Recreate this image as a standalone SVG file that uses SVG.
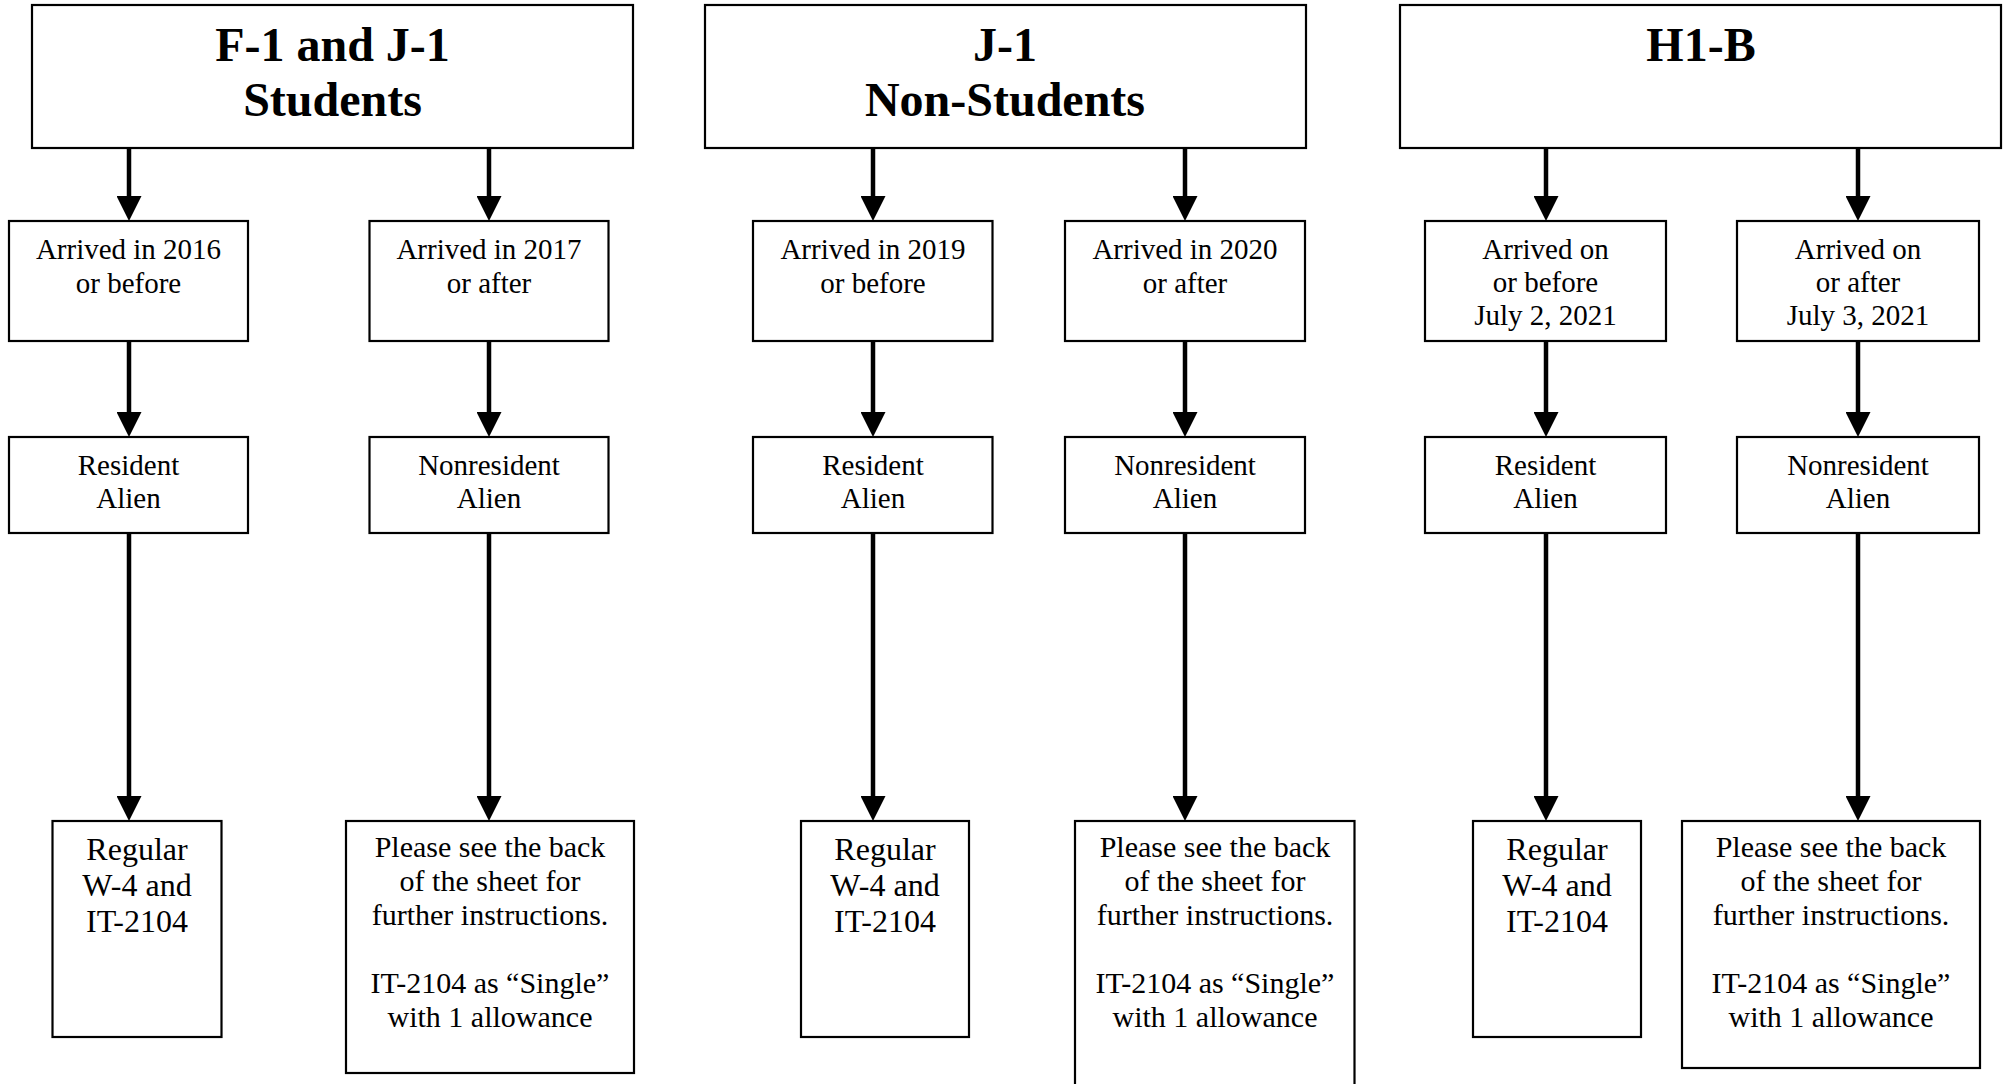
<svg xmlns="http://www.w3.org/2000/svg" width="2005" height="1084" viewBox="0 0 2005 1084">
<defs>
<style>
.box{fill:#fff;stroke:#000;stroke-width:2.2}
.t{font-family:"Liberation Serif","Times New Roman",serif;fill:#000;text-anchor:middle}
.h{font-size:48px;font-weight:bold}
.m{font-size:29px}
.r{font-size:32px}
.p{font-size:30px}
.c{stroke:#000;stroke-width:4.5;fill:none;marker-end:url(#ah)}
</style>
<marker id="ah" markerUnits="userSpaceOnUse" markerWidth="25" markerHeight="25" refX="5" refY="12.5" orient="auto">
<path d="M0,0 L25,12.5 L0,25 z" fill="#000"/>
</marker>
</defs>
<rect width="2005" height="1084" fill="#fff"/>

<g id="connectors">
<line class="c" x1="129" y1="148" x2="129" y2="201"/>
<line class="c" x1="489" y1="148" x2="489" y2="201"/>
<line class="c" x1="873" y1="148" x2="873" y2="201"/>
<line class="c" x1="1185" y1="148" x2="1185" y2="201"/>
<line class="c" x1="1546" y1="148" x2="1546" y2="201"/>
<line class="c" x1="1858" y1="148" x2="1858" y2="201"/>
<line class="c" x1="129" y1="341" x2="129" y2="417"/>
<line class="c" x1="489" y1="341" x2="489" y2="417"/>
<line class="c" x1="873" y1="341" x2="873" y2="417"/>
<line class="c" x1="1185" y1="341" x2="1185" y2="417"/>
<line class="c" x1="1546" y1="341" x2="1546" y2="417"/>
<line class="c" x1="1858" y1="341" x2="1858" y2="417"/>
<line class="c" x1="129" y1="533" x2="129" y2="801"/>
<line class="c" x1="489" y1="533" x2="489" y2="801"/>
<line class="c" x1="873" y1="533" x2="873" y2="801"/>
<line class="c" x1="1185" y1="533" x2="1185" y2="801"/>
<line class="c" x1="1546" y1="533" x2="1546" y2="801"/>
<line class="c" x1="1858" y1="533" x2="1858" y2="801"/>
</g>

<g id="h-students">
<rect class="box" x="32" y="5" width="601" height="143"/>
<text class="t h" x="332.5" y="61">F-1 and J-1</text>
<text class="t h" x="332.5" y="116">Students</text>
</g>
<g id="h-nonstudents">
<rect class="box" x="705" y="5" width="601" height="143"/>
<text class="t h" x="1005" y="61">J-1</text>
<text class="t h" x="1005" y="116">Non-Students</text>
</g>
<g id="h-h1b">
<rect class="box" x="1400" y="5" width="601" height="143"/>
<text class="t h" x="1701" y="61">H1-B</text>
</g>

<g id="a-2016">
<rect class="box" x="9" y="221" width="239" height="120"/>
<text class="t m" x="128.5" y="259">Arrived in 2016</text>
<text class="t m" x="128.5" y="293">or before</text>
</g>
<g id="a-2017">
<rect class="box" x="369.5" y="221" width="239" height="120"/>
<text class="t m" x="489" y="259">Arrived in 2017</text>
<text class="t m" x="489" y="293">or after</text>
</g>
<g id="a-2019">
<rect class="box" x="753" y="221" width="239.5" height="120"/>
<text class="t m" x="873" y="259">Arrived in 2019</text>
<text class="t m" x="873" y="293">or before</text>
</g>
<g id="a-2020">
<rect class="box" x="1065" y="221" width="240" height="120"/>
<text class="t m" x="1185" y="259">Arrived in 2020</text>
<text class="t m" x="1185" y="293">or after</text>
</g>
<g id="a-jul2">
<rect class="box" x="1425" y="221" width="241" height="120"/>
<text class="t m" x="1545.5" y="259">Arrived on</text>
<text class="t m" x="1545.5" y="292">or before</text>
<text class="t m" x="1545.5" y="325">July 2, 2021</text>
</g>
<g id="a-jul3">
<rect class="box" x="1737" y="221" width="242" height="120"/>
<text class="t m" x="1858" y="259">Arrived on</text>
<text class="t m" x="1858" y="292">or after</text>
<text class="t m" x="1858" y="325">July 3, 2021</text>
</g>

<g id="s-ra1">
<rect class="box" x="9" y="437" width="239" height="96"/>
<text class="t m" x="128.5" y="475">Resident</text>
<text class="t m" x="128.5" y="508">Alien</text>
</g>
<g id="s-nra1">
<rect class="box" x="369.5" y="437" width="239" height="96"/>
<text class="t m" x="489" y="475">Nonresident</text>
<text class="t m" x="489" y="508">Alien</text>
</g>
<g id="s-ra2">
<rect class="box" x="753" y="437" width="239.5" height="96"/>
<text class="t m" x="873" y="475">Resident</text>
<text class="t m" x="873" y="508">Alien</text>
</g>
<g id="s-nra2">
<rect class="box" x="1065" y="437" width="240" height="96"/>
<text class="t m" x="1185" y="475">Nonresident</text>
<text class="t m" x="1185" y="508">Alien</text>
</g>
<g id="s-ra3">
<rect class="box" x="1425" y="437" width="241" height="96"/>
<text class="t m" x="1545.5" y="475">Resident</text>
<text class="t m" x="1545.5" y="508">Alien</text>
</g>
<g id="s-nra3">
<rect class="box" x="1737" y="437" width="242" height="96"/>
<text class="t m" x="1858" y="475">Nonresident</text>
<text class="t m" x="1858" y="508">Alien</text>
</g>

<g id="f-reg1">
<rect class="box" x="52.5" y="821" width="169" height="216"/>
<text class="t r" x="137" y="860">Regular</text>
<text class="t r" x="137" y="896">W-4 and</text>
<text class="t r" x="137" y="932">IT-2104</text>
</g>
<g id="f-back1">
<rect class="box" x="346" y="821" width="288" height="252"/>
<text class="t p" x="490" y="857">Please see the back</text>
<text class="t p" x="490" y="891">of the sheet for</text>
<text class="t p" x="490" y="925">further instructions.</text>
<text class="t p" x="490" y="993">IT-2104 as “Single”</text>
<text class="t p" x="490" y="1027">with 1 allowance</text>
</g>
<g id="f-reg2">
<rect class="box" x="801" y="821" width="168" height="216"/>
<text class="t r" x="885" y="860">Regular</text>
<text class="t r" x="885" y="896">W-4 and</text>
<text class="t r" x="885" y="932">IT-2104</text>
</g>
<g id="f-back2">
<rect class="box" x="1075" y="821" width="279.5" height="275"/>
<text class="t p" x="1215" y="857">Please see the back</text>
<text class="t p" x="1215" y="891">of the sheet for</text>
<text class="t p" x="1215" y="925">further instructions.</text>
<text class="t p" x="1215" y="993">IT-2104 as “Single”</text>
<text class="t p" x="1215" y="1027">with 1 allowance</text>
</g>
<g id="f-reg3">
<rect class="box" x="1473" y="821" width="168" height="216"/>
<text class="t r" x="1557" y="860">Regular</text>
<text class="t r" x="1557" y="896">W-4 and</text>
<text class="t r" x="1557" y="932">IT-2104</text>
</g>
<g id="f-back3">
<rect class="box" x="1682" y="821" width="298" height="247"/>
<text class="t p" x="1831" y="857">Please see the back</text>
<text class="t p" x="1831" y="891">of the sheet for</text>
<text class="t p" x="1831" y="925">further instructions.</text>
<text class="t p" x="1831" y="993">IT-2104 as “Single”</text>
<text class="t p" x="1831" y="1027">with 1 allowance</text>
</g>
</svg>
